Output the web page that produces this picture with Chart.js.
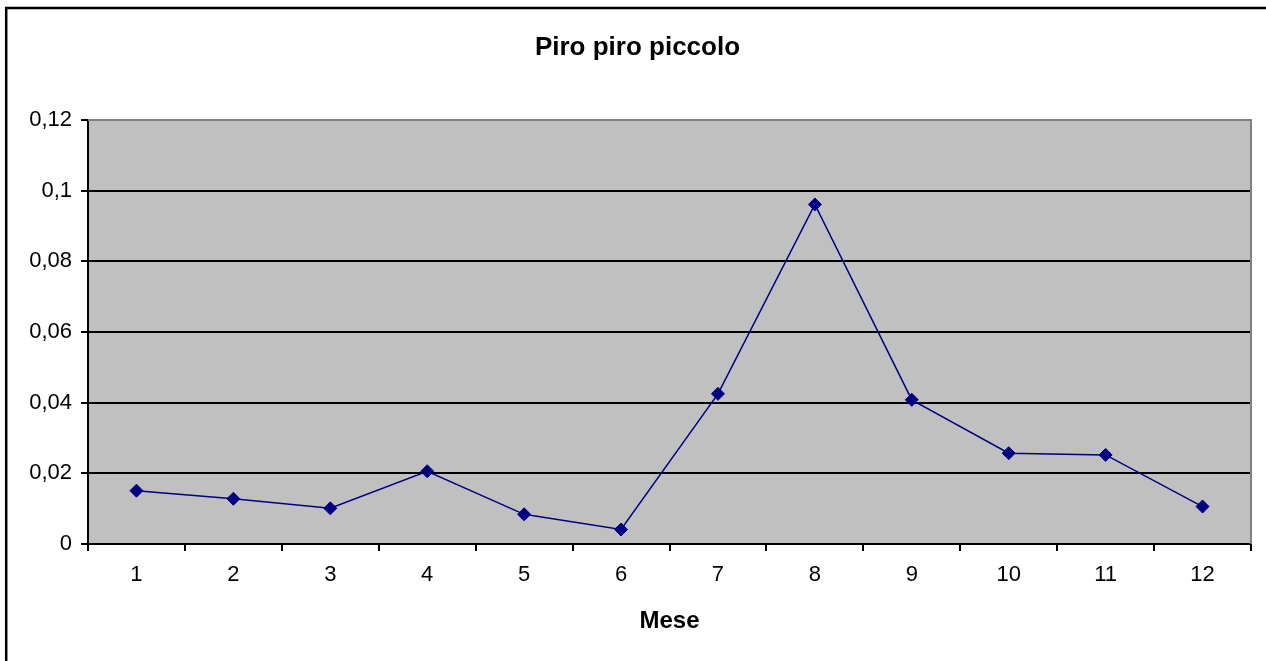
<!DOCTYPE html>
<html>
<head>
<meta charset="utf-8">
<title>Piro piro piccolo</title>
<script src="https://cdn.jsdelivr.net/npm/chart.js@4/dist/chart.umd.min.js"></script>
<style>
  html, body { margin: 0; padding: 0; background: #fff; }
  #wrap { width: 1266px; height: 661px; }
</style>
</head>
<body>
<div id="wrap"><canvas id="chart" width="1266" height="661"></canvas></div>
<script>
// === DATA ===
var mesi = ['1', '2', '3', '4', '5', '6', '7', '8', '9', '10', '11', '12'];
var valori = [0.0151, 0.0128, 0.0101, 0.0206, 0.0084, 0.0041, 0.0425, 0.0961, 0.0408, 0.0257, 0.0252, 0.0106];
var yTicks = [0, 0.02, 0.04, 0.06, 0.08, 0.1, 0.12];

var FONT = "'Liberation Sans', Arial, sans-serif";

function fmtComma(v) {
  return parseFloat(v.toFixed(2)).toString().replace('.', ',');
}

// Grey plot area, grey top/right edge and the outer chart frame
var framePlugin = {
  id: 'frame',
  beforeDraw: function(chart) {
    var a = chart.chartArea;
    var ctx = chart.ctx;
    ctx.save();
    ctx.fillStyle = '#fff';
    ctx.fillRect(0, 0, chart.width, chart.height);
    ctx.fillStyle = '#c0c0c0';
    ctx.fillRect(a.left, a.top, a.right - a.left, a.bottom - a.top);
    ctx.restore();
  },
  afterDraw: function(chart) {
    var a = chart.chartArea;
    var ctx = chart.ctx;
    ctx.save();
    ctx.strokeStyle = '#808080';
    ctx.lineWidth = 2;
    ctx.beginPath();
    ctx.moveTo(a.left, a.top);
    ctx.lineTo(a.right, a.top);
    ctx.lineTo(a.right, a.bottom);
    ctx.stroke();
    // outer frame, only left and top fall inside the picture
    ctx.strokeStyle = '#000';
    ctx.lineWidth = 2.5;
    ctx.strokeRect(6.2, 8, chart.width + 20, chart.height + 20);
    ctx.restore();
  }
};

var ctx = document.getElementById('chart').getContext('2d');
var chart = new Chart(ctx, {
  type: 'line',
  data: {
    labels: mesi,
    datasets: [{
      label: 'Piro piro piccolo',
      data: valori,
      borderColor: '#000080',
      backgroundColor: '#000080',
      borderWidth: 1.5,
      tension: 0,
      pointStyle: 'rectRot',
      pointRadius: 6.5,
      pointBorderWidth: 1,
      pointBorderColor: '#000080',
      pointBackgroundColor: '#000080',
      fill: false
    }]
  },
  options: {
    responsive: false,
    animation: false,
    // left/right padding also shifts the title centre to where it sits in the original
    layout: { padding: { left: 24, right: 15, top: 0, bottom: 0 } },
    plugins: {
      legend: { display: false },
      tooltip: { enabled: false },
      title: {
        display: true,
        text: 'Piro piro piccolo',
        color: '#000',
        font: { family: FONT, size: 26, weight: 'bold' },
        padding: { top: 32, bottom: 56.8 }
      }
    },
    scales: {
      x: {
        offset: true,
        grid: {
          offset: true, drawOnChartArea: false, drawTicks: true,
          tickLength: 7, color: '#000', tickColor: '#000', lineWidth: 2
        },
        border: { color: '#000', width: 2 },
        ticks: { color: '#000', font: { family: FONT, size: 22 }, padding: 11, maxRotation: 0 },
        title: {
          display: true, text: 'Mese', color: '#000',
          font: { family: FONT, size: 24, weight: 'bold' },
          padding: { top: 0, bottom: 25 }
        },
        afterFit: function(scale) { scale.height = 117; }
      },
      y: {
        min: 0, max: 0.12,
        afterBuildTicks: function(scale) {
          scale.ticks = yTicks.map(function(v) { return { value: v }; });
        },
        grid: {
          color: function(c) { return c.tick && c.tick.value === 0.12 ? '#808080' : '#000'; },
          tickColor: '#000', lineWidth: 2, tickLength: 7
        },
        border: { color: '#000', width: 2 },
        ticks: {
          color: '#000', font: { family: FONT, size: 22 }, padding: 9,
          callback: function(v) { return fmtComma(v); }
        },
        afterFit: function(scale) { scale.width = 64; }
      }
    }
  },
  plugins: [framePlugin]
});
</script>
</body>
</html>
